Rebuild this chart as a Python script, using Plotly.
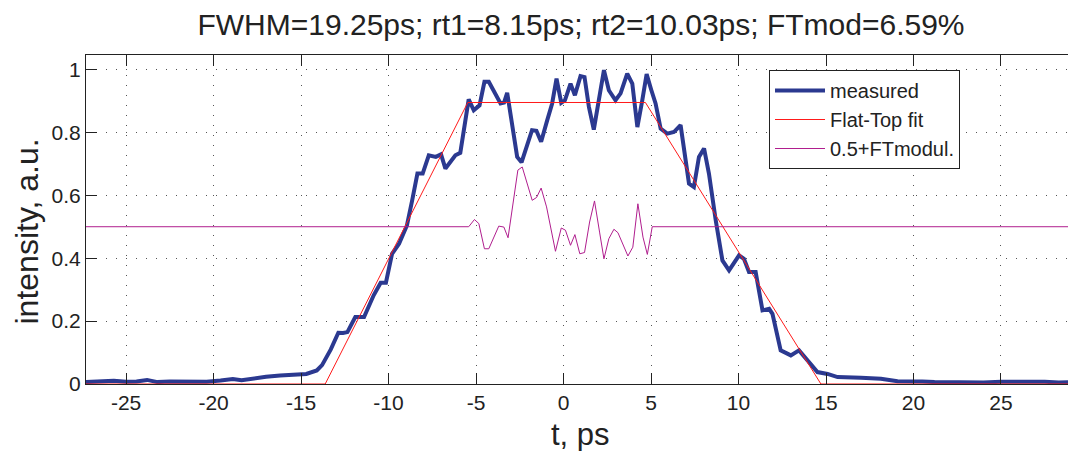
import plotly.graph_objects as go

# ---------------- data ----------------
t_measured = [-27.3, -26.5, -25.7, -25.0, -24.4, -23.8, -23.2, -22.5, -21.9, -21.2,
              -20.4, -19.6, -18.9, -18.4, -17.7, -17.0, -16.2, -15.4, -14.7, -14.1,
              -13.8, -13.3, -12.87, -12.6, -12.35, -11.9, -11.4, -10.85, -10.45, -10.15,
              -9.8, -9.4, -8.95, -8.65, -8.35, -8.05, -7.7, -7.3, -7.0, -6.75,
              -6.18, -5.9, -5.6, -5.42, -5.13, -4.8, -4.52, -4.27, -3.6, -3.4,
              -3.22, -2.65, -2.4, -2.1, -1.8, -1.55, -1.28, -0.93, -0.65, -0.4,
              -0.13, 0.08, 0.4, 0.65, 0.97, 1.2, 1.45, 1.73, 2.02, 2.31,
              2.59, 2.97, 3.26, 3.64, 3.93, 4.22, 4.5, 4.75, 5.02, 5.26,
              5.55, 5.93, 6.31, 6.69, 6.98, 7.17, 7.45, 7.74, 8.03, 8.31,
              8.7, 9.08, 9.46, 10.03, 10.31, 10.6, 10.98, 11.37, 11.75, 11.94,
              12.41, 12.99, 13.46, 13.94, 14.51, 15.09, 15.66, 17.0, 18.14, 19.09,
              19.8, 20.5, 21.2, 22.0, 23.0, 24.0, 25.0, 25.8, 26.6, 27.5,
              28.3, 28.9]
v_measured = [0.006, 0.007, 0.010, 0.007, 0.008, 0.013, 0.006, 0.008, 0.007, 0.008,
              0.007, 0.011, 0.016, 0.012, 0.019, 0.023, 0.027, 0.030, 0.032, 0.043,
              0.060, 0.110, 0.163, 0.162, 0.165, 0.213, 0.213, 0.282, 0.322, 0.322,
              0.414, 0.446, 0.504, 0.584, 0.669, 0.669, 0.727, 0.722, 0.730, 0.685,
              0.727, 0.735, 0.833, 0.905, 0.870, 0.886, 0.961, 0.961, 0.892, 0.895,
              0.926, 0.722, 0.705, 0.760, 0.807, 0.805, 0.770, 0.839, 0.892, 0.971,
              0.894, 0.902, 0.955, 0.918, 0.979, 0.976, 0.881, 0.809, 0.913, 0.998,
              0.934, 0.902, 0.924, 0.987, 0.955, 0.817, 0.902, 0.985, 0.934, 0.892,
              0.812, 0.796, 0.801, 0.823, 0.711, 0.637, 0.626, 0.722, 0.749, 0.669,
              0.520, 0.393, 0.361, 0.409, 0.398, 0.356, 0.356, 0.234, 0.239, 0.223,
              0.107, 0.091, 0.107, 0.075, 0.038, 0.032, 0.022, 0.020, 0.017, 0.009,
              0.010, 0.008, 0.006, 0.005, 0.006, 0.005, 0.007, 0.008, 0.006, 0.007,
              0.005, 0.006]

t_fit = [-27.3, -13.62, -5.47, 4.68, 14.71, 28.9]
v_fit = [0.0, 0.0, 0.895, 0.895, 0.0, 0.0]

t_mod = [-27.3, -5.42, -5.09, -4.84, -4.52, -4.27, -3.7, -3.41, -3.17, -2.61,
         -2.36, -1.79, -1.54, -1.28, -0.97, -0.46, -0.13, 0.11, 0.4, 0.65,
         0.93, 1.2, 1.49, 1.77, 2.06, 2.31, 2.59, 2.88, 3.11, 3.68,
         3.96, 4.25, 4.54, 4.79, 5.07, 28.9]
v_mod = [0.5, 0.5, 0.523, 0.51, 0.43, 0.43, 0.502, 0.499, 0.465, 0.68,
         0.69, 0.584, 0.593, 0.623, 0.563, 0.422, 0.496, 0.489, 0.441, 0.475,
         0.414, 0.418, 0.515, 0.582, 0.483, 0.398, 0.462, 0.492, 0.481, 0.407,
         0.435, 0.573, 0.467, 0.412, 0.5, 0.5]

x_tick_vals = [-25, -20, -15, -10, -5, 0, 5, 10, 15, 20, 25]
x_tick_text = ["-25", "-20", "-15", "-10", "-5", "0", "5", "10", "15", "20", "25"]
y_tick_vals = [0, 0.2, 0.4, 0.6, 0.8, 1.0]
y_tick_text = ["0", "0.2", "0.4", "0.6", "0.8", "1"]

title_text = "FWHM=19.25ps; rt1=8.15ps; rt2=10.03ps; FTmod=6.59%"
series_names = ["measured", "Flat-Top fit", "0.5+FTmodul."]

# ---------------- figure ----------------
FONT = "Liberation Sans, Arial, Helvetica, sans-serif"
W, H = 1068, 451
ML, MR, MT, MB = 86, 0, 55, 67

fig = go.Figure()
fig.add_trace(go.Scatter(x=t_measured, y=v_measured, mode="lines", name=series_names[0],
                         line=dict(color="#2B3990", width=4)))
fig.add_trace(go.Scatter(x=t_fit, y=v_fit, mode="lines", name=series_names[1],
                         line=dict(color="#FF1A1A", width=1)))
fig.add_trace(go.Scatter(x=t_mod, y=v_mod, mode="lines", name=series_names[2],
                         line=dict(color="#B01E8E", width=1)))

axis_common = dict(
    showline=True, linecolor="#222222", linewidth=1,
    ticks="inside", ticklen=11, tickcolor="#222222", tickwidth=1,
    showgrid=True, gridcolor="#555555", gridwidth=1, griddash="1px,9px",
    zeroline=False,
    tickfont=dict(family=FONT, size=21, color="#222222"),
)

fig.update_xaxes(range=[-27.29, 28.83], tickmode="array", tickvals=x_tick_vals,
                 ticktext=x_tick_text, mirror="ticks", ticklabelstandoff=0,
                 **axis_common)
fig.update_yaxes(range=[0, 1.046], tickmode="array", tickvals=y_tick_vals,
                 ticktext=y_tick_text, mirror=False, ticklabelstandoff=0,
                 **axis_common)

plot_h = H - MT - MB
fig.update_layout(
    width=W, height=H,
    margin=dict(l=ML, r=MR, t=MT, b=MB, pad=0),
    paper_bgcolor="white", plot_bgcolor="white",
    font=dict(family=FONT, color="#222222"),
    title=dict(text=title_text, x=581 / W, xref="container", xanchor="center",
               y=1 - 24 / H, yref="container", yanchor="middle",
               font=dict(family=FONT, size=30, color="#222222")),
    showlegend=True,
    legend=dict(x=(769 - ML) / (W - ML), y=(H - MB - 70) / plot_h,
                xanchor="left", yanchor="top",
                bgcolor="white", bordercolor="#222222", borderwidth=1,
                font=dict(family=FONT, size=20, color="#222222"),
                itemwidth=50, tracegroupgap=0),
    annotations=[
        dict(text="intensity, a.u.", textangle=-90, xref="paper", yref="paper",
             x=(26 - ML) / (W - ML), y=(H - MB - 231.5) / plot_h,
             xanchor="center", yanchor="middle", showarrow=False,
             font=dict(family=FONT, size=32, color="#222222")),
        dict(text="t, ps", xref="paper", yref="paper",
             x=(580 - ML) / (W - ML), y=-(434 - (H - MB)) / plot_h,
             xanchor="center", yanchor="middle", showarrow=False,
             font=dict(family=FONT, size=31, color="#222222")),
    ],
)

fig.write_html("out.html")
